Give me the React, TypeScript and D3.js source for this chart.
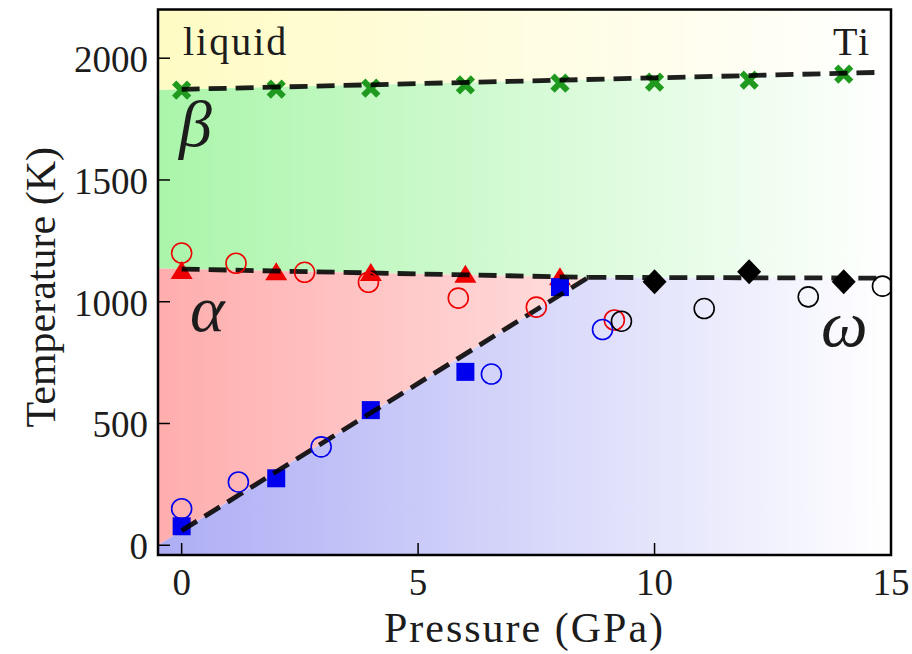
import React from "react";
import * as d3 from "d3";

// ---- axes ----
const P_DOMAIN = [-0.5, 15];
const T_DOMAIN = [-40, 2200];
const xTicks = [0, 5, 10, 15];
const yTicks = [0, 500, 1000, 1500, 2000];

// ---- phase boundaries (fitted lines), pressure in GPa, temperature in K ----
const meltLineP = [0, 14.8];
const meltLineT = [1872, 1942];
const alphaBetaLineP = [0, 8.6];
const alphaBetaLineT = [1134, 1100];
const omegaBetaLineP = [8.6, 14.8];
const omegaBetaLineT = [1100, 1097];
const alphaOmegaLineP = [0, 8.6];
const alphaOmegaLineT = [60, 1100];

// ---- computed transition points ----
const meltP = [0, 2, 4, 6, 8, 10, 12, 14];
const meltT = [1869, 1873, 1877, 1890, 1898, 1902, 1910, 1935];
const alphaBetaP = [0, 2, 4, 6, 8];
const alphaBetaT = [1130, 1125, 1122, 1115, 1105];
const alphaOmegaP = [0, 2, 4, 6, 8];
const alphaOmegaT = [78, 275, 555, 712, 1060];
const omegaBetaP = [10, 12, 14];
const omegaBetaT = [1082, 1123, 1082];

// ---- experimental points ----
const expAlphaBetaP = [0, 1.15, 2.6, 3.95, 5.85, 7.5, 9.15];
const expAlphaBetaT = [1200, 1158, 1121, 1080, 1015, 978, 925];
const expAlphaOmegaP = [0, 1.2, 2.95, 6.55, 8.9];
const expAlphaOmegaT = [150, 260, 404, 703, 886];
const expOmegaBetaP = [9.3, 11.05, 13.25, 14.82];
const expOmegaBetaT = [920, 972, 1020, 1064];

const W = 912;
const H = 654;
const PLOT = { left: 158, right: 891, top: 9.5, bottom: 555 };

const x = d3.scaleLinear().domain(P_DOMAIN).range([PLOT.left, PLOT.right]);
const y = d3.scaleLinear().domain(T_DOMAIN).range([PLOT.bottom, PLOT.top]);

// linear extrapolation along a two-point boundary
const along = (ps: number[], ts: number[], p: number) =>
  ts[0] + ((ts[1] - ts[0]) * (p - ps[0])) / (ps[1] - ps[0]);

const zip = (ps: number[], ts: number[]) => ps.map((p, i) => [p, ts[i]] as [number, number]);

const [pLo, pHi] = P_DOMAIN;
const [tLo, tHi] = T_DOMAIN;
const triple: [number, number] = [alphaBetaLineP[1], alphaBetaLineT[1]];

const regions = [
  {
    id: "liquid",
    color: "#fffbc4",
    pts: [
      [pLo, tHi],
      [pHi, tHi],
      [pHi, along(meltLineP, meltLineT, pHi)],
      [pLo, along(meltLineP, meltLineT, pLo)],
    ],
  },
  {
    id: "beta",
    color: "#aaf5aa",
    pts: [
      [pLo, along(meltLineP, meltLineT, pLo)],
      [pHi, along(meltLineP, meltLineT, pHi)],
      [pHi, along(omegaBetaLineP, omegaBetaLineT, pHi)],
      triple,
      [pLo, along(alphaBetaLineP, alphaBetaLineT, pLo)],
    ],
  },
  {
    id: "alpha",
    color: "#ffadad",
    pts: [
      [pLo, along(alphaBetaLineP, alphaBetaLineT, pLo)],
      triple,
      [pLo, along(alphaOmegaLineP, alphaOmegaLineT, pLo)],
    ],
  },
  {
    id: "omega",
    color: "#adadf5",
    pts: [
      [pLo, along(alphaOmegaLineP, alphaOmegaLineT, pLo)],
      triple,
      [pHi, along(omegaBetaLineP, omegaBetaLineT, pHi)],
      [pHi, tLo],
      [pLo, tLo],
    ],
  },
];

const lineGen = d3
  .line<[number, number]>()
  .x((d) => x(d[0]))
  .y((d) => y(d[1]));

const boundaries = [
  zip(meltLineP, meltLineT),
  zip(alphaBetaLineP, alphaBetaLineT),
  zip(omegaBetaLineP, omegaBetaLineT),
  zip(alphaOmegaLineP, alphaOmegaLineT),
];

const serif = "Liberation Serif, serif";
const ink = "#1c1c1c";

function triangle(cx: number, cy: number, w: number, h: number) {
  return `M${cx},${cy - h / 2}L${cx + w / 2},${cy + h / 2}L${cx - w / 2},${cy + h / 2}Z`;
}
function diamond(cx: number, cy: number, rx: number, ry: number) {
  return `M${cx},${cy - ry}L${cx + rx},${cy}L${cx},${cy + ry}L${cx - rx},${cy}Z`;
}

export default function App() {
  return (
    <svg
      width={W}
      height={H}
      style={{ position: "absolute", left: 0, top: 0, background: "#fff" }}
    >
      <defs>
        {regions.map((r) => (
          <linearGradient
            key={r.id}
            id={`grad-${r.id}`}
            gradientUnits="userSpaceOnUse"
            x1={x(pLo)}
            x2={x(pHi)}
            y1={0}
            y2={0}
          >
            <stop offset="0" stopColor={r.color} />
            <stop offset="1" stopColor="#ffffff" />
          </linearGradient>
        ))}
        <clipPath id="plot-clip">
          <rect
            x={PLOT.left}
            y={PLOT.top}
            width={PLOT.right - PLOT.left}
            height={PLOT.bottom - PLOT.top}
          />
        </clipPath>
      </defs>

      <g clipPath="url(#plot-clip)">
        {regions.map((r) => (
          <path
            key={r.id}
            d={lineGen(r.pts as [number, number][]) + "Z"}
            fill={`url(#grad-${r.id})`}
          />
        ))}

        {/* computed melting points */}
        {meltP.map((p, i) => {
          const cx = x(p);
          const cy = y(meltT[i]);
          const s = 7.5;
          return (
            <path
              key={`m${i}`}
              d={`M${cx - s},${cy - s}L${cx + s},${cy + s}M${cx - s},${cy + s}L${cx + s},${cy - s}`}
              stroke="#1f9a1f"
              strokeWidth={6}
            />
          );
        })}
        {alphaBetaP.map((p, i) => (
          <path key={`ab${i}`} d={triangle(x(p), y(alphaBetaT[i]), 22, 18)} fill="#ee0000" />
        ))}
        {alphaOmegaP.map((p, i) => (
          <rect
            key={`ao${i}`}
            x={x(p) - 9}
            y={y(alphaOmegaT[i]) - 9}
            width={18}
            height={18}
            fill="#0000ee"
          />
        ))}
        {omegaBetaP.map((p, i) => (
          <path key={`ob${i}`} d={diamond(x(p), y(omegaBetaT[i]), 12, 12.5)} fill="#000" />
        ))}

        {boundaries.map((b, i) => (
          <path
            key={`b${i}`}
            d={lineGen(b) ?? ""}
            fill="none"
            stroke="#000"
            strokeOpacity={0.88}
            strokeWidth={4.8}
            strokeDasharray="18,9"
          />
        ))}

        {expAlphaBetaP.map((p, i) => (
          <circle key={`eab${i}`} cx={x(p)} cy={y(expAlphaBetaT[i])} r={10} fill="none" stroke="#ee0000" strokeWidth={1.6} />
        ))}
        {expAlphaOmegaP.map((p, i) => (
          <circle key={`eao${i}`} cx={x(p)} cy={y(expAlphaOmegaT[i])} r={10} fill="none" stroke="#0000ee" strokeWidth={1.6} />
        ))}
        {expOmegaBetaP.map((p, i) => (
          <circle key={`eob${i}`} cx={x(p)} cy={y(expOmegaBetaT[i])} r={10} fill="none" stroke="#000" strokeWidth={1.6} />
        ))}
      </g>

      {/* phase labels */}
      <text x={183} y={55} fontFamily={serif} fontSize={40} letterSpacing={2} fill={ink}>
        liquid
      </text>
      <text x={833} y={55} fontFamily={serif} fontSize={40} letterSpacing={2} fill={ink}>
        Ti
      </text>
      <text x={179} y={146} fontFamily={serif} fontStyle="italic" fontSize={66} fill={ink}>
        β
      </text>
      <text x={190} y={331} fontFamily={serif} fontStyle="italic" fontSize={66} fill={ink}>
        α
      </text>
      <text x={821} y={346} fontFamily={serif} fontStyle="italic" fontSize={66} fill={ink}>
        ω
      </text>

      {/* ticks */}
      {xTicks.map((t) => (
        <g key={`xt${t}`}>
          <line x1={x(t)} x2={x(t)} y1={PLOT.bottom} y2={PLOT.bottom - 12} stroke="#000" strokeWidth={1.5} />
          <text x={x(t)} y={595} textAnchor="middle" fontFamily={serif} fontSize={37} fill={ink}>
            {t}
          </text>
        </g>
      ))}
      {yTicks.map((t) => (
        <g key={`yt${t}`}>
          <line x1={PLOT.left} x2={PLOT.left + 12} y1={y(t)} y2={y(t)} stroke="#000" strokeWidth={1.5} />
          <text x={148} y={y(t) + 14} textAnchor="end" fontFamily={serif} fontSize={37} fill={ink}>
            {t}
          </text>
        </g>
      ))}

      {/* frame */}
      <rect
        x={PLOT.left}
        y={PLOT.top}
        width={PLOT.right - PLOT.left}
        height={PLOT.bottom - PLOT.top}
        fill="none"
        stroke="#000"
        strokeWidth={2.5}
      />

      {/* axis titles */}
      <text
        x={(PLOT.left + PLOT.right) / 2}
        y={642}
        textAnchor="middle"
        fontFamily={serif}
        fontSize={42}
        letterSpacing={2}
        fill={ink}
      >
        Pressure (GPa)
      </text>
      <text
        transform={`translate(55, ${(PLOT.top + PLOT.bottom) / 2 + 5}) rotate(-90)`}
        textAnchor="middle"
        fontFamily={serif}
        fontSize={42}
        fill={ink}
      >
        Temperature (K)
      </text>
    </svg>
  );
}
